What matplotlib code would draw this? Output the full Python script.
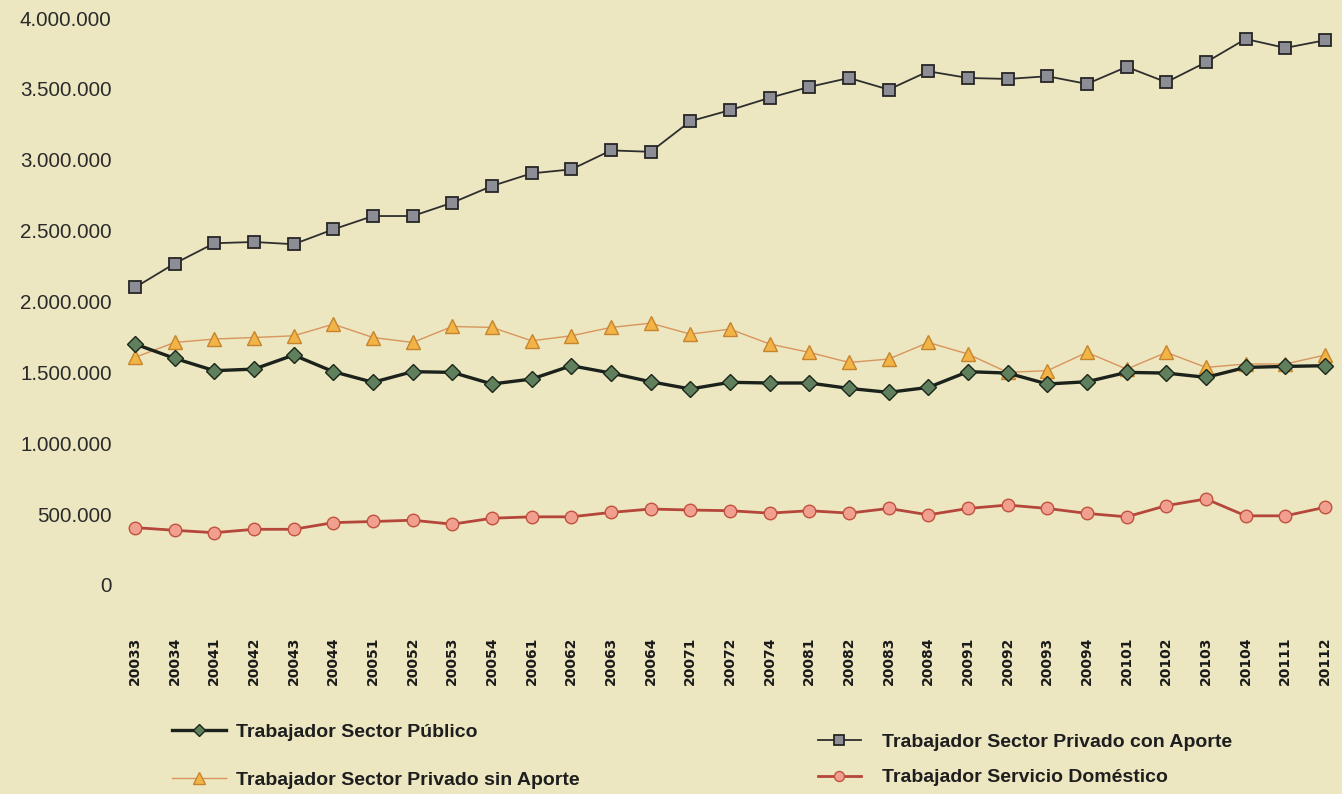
import matplotlib
matplotlib.use('Agg')
import matplotlib.pyplot as plt
from matplotlib.ticker import FuncFormatter

plt.rcParams['font.family'] = ['Liberation Sans', 'DejaVu Sans']

trimestres = ['20033', '20034', '20041', '20042', '20043', '20044', '20051', '20052',
              '20053', '20054', '20061', '20062', '20063', '20064', '20071', '20072',
              '20074', '20081', '20082', '20083', '20084', '20091', '20092', '20093',
              '20094', '20101', '20102', '20103', '20104', '20111', '20112']

# valores en miles de personas
sector_publico = [1700, 1599, 1512, 1523, 1622, 1505, 1430, 1505, 1500, 1418, 1453, 1547,
                  1495, 1434, 1383, 1430, 1425, 1425, 1387, 1359, 1394, 1505, 1495, 1418,
                  1434, 1500, 1495, 1465, 1535, 1542, 1547]
privado_sin_aporte = [1606, 1711, 1735, 1746, 1758, 1840, 1746, 1711, 1824, 1817, 1723, 1758,
                      1817, 1847, 1770, 1805, 1700, 1641, 1570, 1594, 1711, 1629, 1500, 1512,
                      1641, 1523, 1641, 1535, 1559, 1559, 1622]
privado_con_aporte = [2099, 2268, 2411, 2420, 2404, 2509, 2603, 2603, 2697, 2815, 2904, 2932,
                      3066, 3056, 3272, 3350, 3437, 3514, 3577, 3495, 3624, 3577, 3570, 3589,
                      3535, 3655, 3547, 3688, 3852, 3789, 3843]
servicio_domestico = [405, 386, 369, 393, 393, 440, 448, 457, 429, 471, 481, 481, 512, 536,
                      529, 524, 507, 524, 507, 540, 495, 540, 564, 540, 505, 481, 560, 607,
                      488, 488, 548]

fondo = '#ece6c1'
W, H = 1342, 794

fig = plt.figure(figsize=(W / 100, H / 100), dpi=100, facecolor=fondo)
ax = fig.add_axes([120 / W, (H - 585) / H, 1220 / W, 567 / H])
ax.set_facecolor(fondo)

x = list(range(len(trimestres)))

l_con, = ax.plot(x, [v * 1000 for v in privado_con_aporte], color='#2e2e2e', lw=1.3,
                 marker='s', ms=9, mfc='#8d8d95', mec='#262626', mew=1.3, clip_on=False,
                 label='Trabajador Sector Privado con Aporte')
l_sin, = ax.plot(x, [v * 1000 for v in privado_sin_aporte], color='#d9955c', lw=1.0,
                 marker='^', ms=10, mfc='#f2b447', mec='#c6852c', mew=1.0, clip_on=False,
                 label='Trabajador Sector Privado sin Aporte')
l_pub, = ax.plot(x, [v * 1000 for v in sector_publico], color='#1b221b', lw=2.4,
                 marker='D', ms=8, mfc='#5f7f5d', mec='#1b261b', mew=1.0, clip_on=False,
                 label='Trabajador Sector Público')
l_dom, = ax.plot(x, [v * 1000 for v in servicio_domestico], color='#b5463a', lw=2.0,
                 marker='o', ms=9, mfc='#f1a08f', mec='#c2513f', mew=1.0, clip_on=False,
                 label='Trabajador Servicio Doméstico')

ax.set_xlim(-0.378, 30.378)
ax.set_ylim(0, 4000000)
ax.set_yticks(range(0, 4000001, 500000))
ax.yaxis.set_major_formatter(FuncFormatter(lambda v, p: f'{int(v):,}'.replace(',', '.')))
ax.set_xticks(x)
ax.set_xticklabels(trimestres, rotation=90, fontsize=10, fontweight='bold',
                   family=['DejaVu Sans'], color='#1a1a1a')
ax.tick_params(axis='y', length=0, pad=6, labelsize=14.8, labelcolor='#2a2a2a')
ax.tick_params(axis='x', length=0, pad=37)
for s in ax.spines.values():
    s.set_visible(False)

leg_kw = dict(frameon=False, loc='upper left', borderpad=0, borderaxespad=0,
              prop={'weight': 'bold', 'size': 14}, markerscale=0.8)
leg1 = fig.legend([l_pub, l_sin], [l_pub.get_label(), l_sin.get_label()],
                  bbox_to_anchor=(172 / W, 1 - 723 / H), handlelength=2.8,
                  handletextpad=0.5, labelspacing=1.56, **leg_kw)
leg2 = fig.legend([l_con, l_dom], [l_con.get_label(), l_dom.get_label()],
                  bbox_to_anchor=(818 / W, 1 - 733 / H), handlelength=2.2,
                  handletextpad=1.1, labelspacing=0.94, **leg_kw)
for leg in (leg1, leg2):
    for t in leg.get_texts():
        t.set_color('#1e1e1e')

fig.savefig('out.png', dpi=100, facecolor=fondo)
